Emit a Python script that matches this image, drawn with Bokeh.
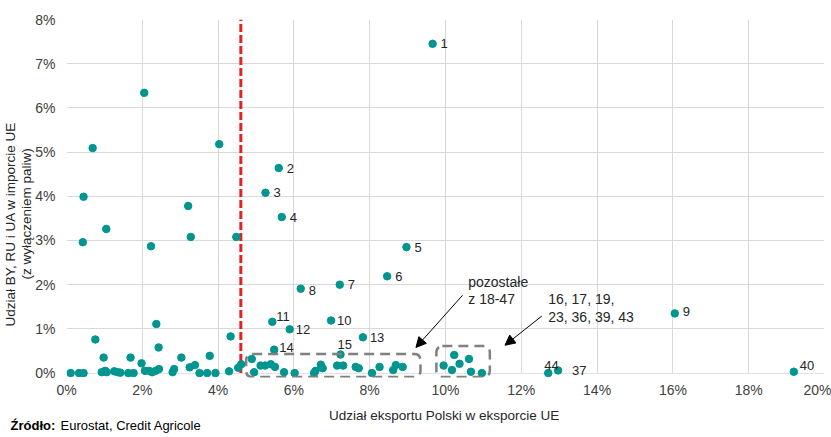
from bokeh.plotting import figure
from bokeh.layouts import column
from bokeh.models import (ColumnDataSource, FixedTicker, PrintfTickFormatter, Range1d,
                          BoxAnnotation, Arrow, NormalHead, Title)
from bokeh.core.properties import value
from bokeh.embed import file_html
from bokeh.resources import INLINE

# ---- data (percent) ----
# labelled points
lab_names = ["1", "2", "3", "4", "5", "6", "7", "8", "9", "10", "11", "12", "13", "14", "15", "44", "37", "40"]
lab_x = [9.66, 5.60, 5.25, 5.68, 8.97, 8.46, 7.21, 6.18, 16.05, 6.98, 5.43, 5.89, 7.82, 5.48, 7.23, 12.71, 12.97, 19.19]
lab_y = [7.45, 4.64, 4.08, 3.53, 2.85, 2.19, 2.00, 1.91, 1.35, 1.19, 1.16, 0.99, 0.81, 0.53, 0.42, 0.00, 0.06, 0.03]

# unlabelled points left of the threshold
left_x = [2.05, 0.69, 4.03, 0.45, 0.43, 1.05, 3.21, 3.28, 2.23, 4.48,
          2.37, 0.76, 4.33, 2.43, 0.98, 1.69, 3.03, 3.78, 1.98, 3.39, 3.25, 2.84, 2.80, 2.44, 2.35, 2.26, 2.18, 2.07,
          0.11, 0.33, 0.45, 0.93, 1.02, 1.06, 1.26, 1.35, 1.42, 1.63, 1.77, 3.51, 3.71, 3.93, 4.29, 4.53, 4.61]
left_y = [6.34, 5.09, 5.18, 3.99, 2.96, 3.26, 3.78, 3.08, 2.87, 3.08,
          1.11, 0.76, 0.83, 0.58, 0.35, 0.35, 0.35, 0.39, 0.22, 0.18, 0.13, 0.09, 0.02, 0.09, 0.05, 0.02, 0.05, 0.05,
          0.00, 0.00, 0.00, 0.02, 0.05, 0.02, 0.04, 0.02, 0.01, 0.00, 0.00, 0.00, 0.00, 0.00, 0.04, 0.12, 0.20]

# "pozostałe z 18-47" group
rest_x = [4.89, 4.95, 5.12, 5.24, 5.39, 5.50, 5.74, 6.02, 6.53, 6.57, 6.71, 6.76, 7.14, 7.30, 7.63, 7.71, 8.06, 8.26, 8.62, 8.69, 8.87]
rest_y = [0.32, 0.02, 0.17, 0.17, 0.20, 0.14, 0.02, 0.00, 0.00, 0.05, 0.19, 0.11, 0.17, 0.17, 0.14, 0.11, 0.00, 0.14, 0.07, 0.18, 0.14]

# "16, 17, 19, 23, 36, 39, 43" group
grp_x = [9.95, 10.23, 10.17, 10.37, 10.62, 10.67, 10.96]
grp_y = [0.17, 0.41, 0.07, 0.21, 0.32, 0.03, 0.00]

x_ticks = [0, 2, 4, 6, 8, 10, 12, 14, 16, 18, 20]
y_ticks = [0, 1, 2, 3, 4, 5, 6, 7, 8]
threshold = 4.6

x_title = "Udział eksportu Polski w eksporcie UE"
y_title_1 = "Udział BY, RU i UA w imporcie UE"
y_title_2 = "(z wyłączeniem paliw)"
source_bold = "Źródło:"
source_text = "Eurostat, Credit Agricole"
group_texts = ["pozostałe", "z 18-47", "16, 17, 19,", "23, 36, 39, 43"]

FONT = "Liberation Sans"
TEAL = "#00968f"
TXT = "#262626"

# label offsets (pixels)
off_x = {"11": 4, "14": 5, "15": -3, "44": -4, "37": 14, "40": 6, "10": 6, "12": 6, "13": 7}
off_y = {"11": -5, "14": -2, "15": -10, "44": -8, "40": -6, "9": -2, "8": 2}

p = figure(width=831, height=400, output_backend="svg", toolbar_location=None,
           x_range=(0, 20), y_range=(-0.1, 8),
           min_border_left=63, min_border_right=7, min_border_top=19, min_border_bottom=22)
p.outline_line_color = None

for ax in (p.xaxis[0], p.yaxis[0]):
    ax.axis_line_color = None
    ax.major_tick_line_color = None
    ax.minor_tick_line_color = None
    ax.major_tick_out = 0
    ax.major_tick_in = 0
    ax.minor_tick_out = 0
    ax.major_label_text_font = FONT
    ax.major_label_text_font_size = "14px"
    ax.major_label_text_color = "#404040"
    ax.formatter = PrintfTickFormatter(format="%d%%")

p.xaxis[0].ticker = FixedTicker(ticks=x_ticks)
p.yaxis[0].ticker = FixedTicker(ticks=y_ticks)
p.xaxis[0].major_label_standoff = 4
p.yaxis[0].major_label_standoff = 11

p.xgrid.grid_line_color = "#d9d9d9"
p.ygrid.grid_line_color = "#d9d9d9"
p.xgrid.ticker = FixedTicker(ticks=x_ticks)
p.ygrid.ticker = FixedTicker(ticks=y_ticks)

# hide grid stubs below the 0 line
p.add_layout(BoxAnnotation(top=-0.015, fill_color="white", fill_alpha=1,
                           line_alpha=0, level="underlay"))

# y-axis title: two centred lines (line 2 nearest the axis)
for txt, off, so in ((y_title_2, 98, -5), (y_title_1, 51, 3)):
    p.add_layout(Title(text=txt, align="left", vertical_align="middle", offset=off, standoff=so,
                       text_font=FONT, text_font_size="13.5px", text_font_style="normal",
                       text_color=TXT), "left")

# dashed group boxes
for l, r, t in ((4.74, 9.34, 0.43), (9.76, 11.17, 0.61)):
    p.add_layout(BoxAnnotation(left=l, right=r, bottom=-0.09, top=t,
                               fill_alpha=0, line_color="#808080", line_alpha=1,
                               line_width=2.5, line_dash="10 6", border_radius=6))

# threshold line
p.segment(x0=[threshold], y0=[y_ticks[0]], x1=[threshold], y1=[y_ticks[-1]],
          line_color="#e8201f", line_width=3, line_dash="8 3")

all_x = left_x + rest_x + grp_x + lab_x
all_y = left_y + rest_y + grp_y + lab_y
p.scatter(all_x, all_y, size=7.5, fill_color=TEAL, line_color=TEAL)

src = ColumnDataSource(dict(
    x=lab_x, y=lab_y, t=lab_names,
    xo=[off_x.get(n, 8) for n in lab_names],
    yo=[off_y.get(n, 0) for n in lab_names],
))
p.text("x", "y", text="t", source=src, x_offset="xo", y_offset="yo",
       text_font=value(FONT), text_font_size="13px", text_color=TXT,
       text_baseline="middle", text_align="left")

# annotation texts
ann = ColumnDataSource(dict(x=[10.6, 10.6, 12.71, 12.71], y=[2.07, 1.67, 1.67, 1.26], t=group_texts))
p.text("x", "y", text="t", source=ann, text_font=value(FONT), text_font_size="14px",
       text_color=TXT, text_baseline="middle", text_align="left")

for xs, ys, xe, ye in ((10.45, 1.76, 9.22, 0.58), (12.54, 1.29, 11.57, 0.63)):
    p.add_layout(Arrow(x_start=xs, y_start=ys, x_end=xe, y_end=ye,
                       line_color="black", line_width=1,
                       end=NormalHead(size=10, fill_color="black", line_color="black")))

# ---- strip below: x-axis title and source note ----
q = figure(width=831, height=37, output_backend="svg", toolbar_location=None,
           x_range=Range1d(0, 831), y_range=Range1d(0, 37),
           x_axis_location=None, y_axis_location=None,
           min_border=0, min_border_left=0, min_border_right=0, min_border_top=0, min_border_bottom=0)
q.outline_line_color = None
q.grid.visible = False
for fig in (p, q):
    try:
        fig.frame_align = False
    except Exception:
        pass
q.text(x=[443.7], y=[22], text=[x_title], text_font=value(FONT), text_font_size="13.5px",
       text_color=TXT, text_align="center", text_baseline="alphabetic")
q.text(x=[10], y=[12], text=[source_bold], text_font=value(FONT), text_font_size="13px",
       text_font_style="bold", text_color="black", text_align="left", text_baseline="alphabetic")
q.text(x=[60], y=[12], text=[source_text], text_font=value(FONT), text_font_size="13px",
       text_color="black", text_align="left", text_baseline="alphabetic")

layout = column(p, q, spacing=0)
open("out.html", "w").write(file_html(layout, INLINE))
